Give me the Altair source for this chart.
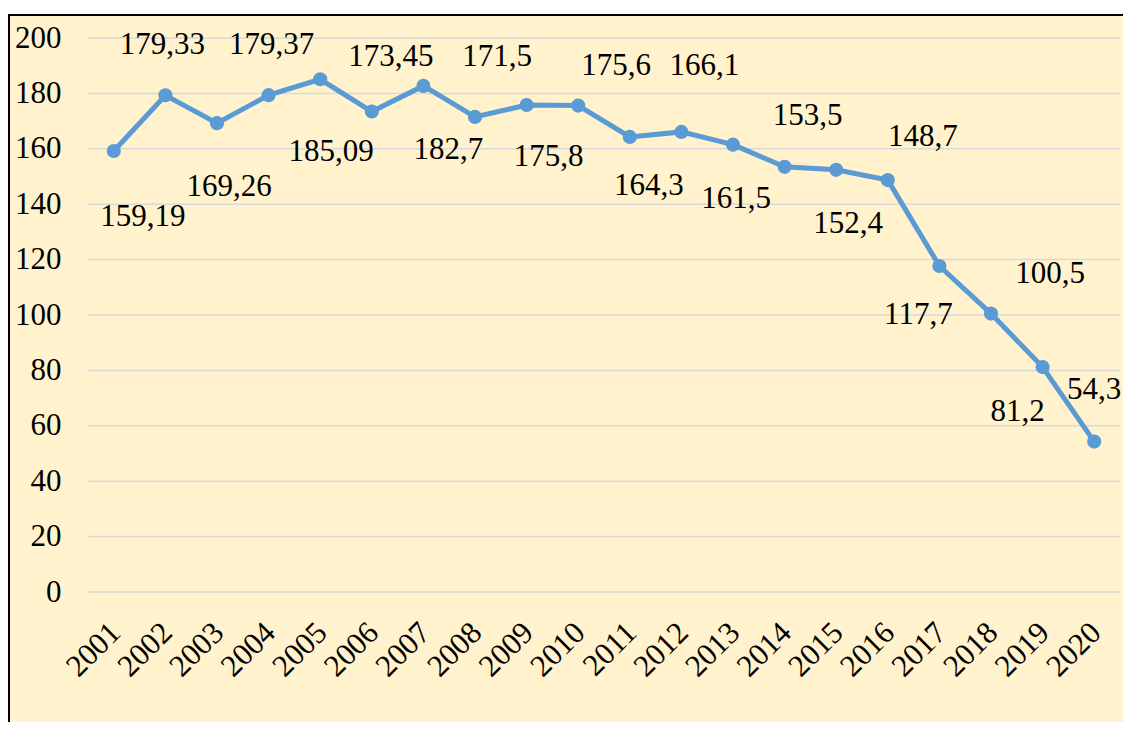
import altair as alt
import pandas as pd

# ---- data ----
years = ["2001", "2002", "2003", "2004", "2005", "2006", "2007", "2008", "2009", "2010",
         "2011", "2012", "2013", "2014", "2015", "2016", "2017", "2018", "2019", "2020"]
values = [159.19, 179.33, 169.26, 179.37, 185.09, 173.45, 182.7, 171.5, 175.8, 175.6,
          164.3, 166.1, 161.5, 153.5, 152.4, 148.7, 117.7, 100.5, 81.2, 54.3]
labels = ["159,19", "179,33", "169,26", "179,37", "185,09", "173,45", "182,7", "171,5", "175,8", "175,6",
          "164,3", "166,1", "161,5", "153,5", "152,4", "148,7", "117,7", "100,5", "81,2", "54,3"]
y_ticks = [0, 20, 40, 60, 80, 100, 120, 140, 160, 180, 200]

# ---- layout / style (label placement offsets in px) ----
label_offsets = {
    "2001": (29, 66), "2002": (-3, -50), "2003": (12, 64), "2004": (3, -50),
    "2005": (11, 73), "2006": (19, -55), "2007": (25, 64), "2008": (22, -60),
    "2009": (22, 52), "2010": (38, -40), "2011": (19, 49), "2012": (23, -66),
    "2013": (3, 54), "2014": (23, -51), "2015": (12, 54), "2016": (35, -43),
    "2017": (-21, 49), "2018": (59, -40), "2019": (-25, 45), "2020": (0, -52),
}

W, H = 1032, 554
FONT = "Liberation Serif"
FS = 31
LINE_COLOR = "#5B9BD5"
BG = "#FFF2CC"

df = pd.DataFrame({"year": years, "value": values, "label": labels})
ticks_df = pd.DataFrame({"tick": y_ticks})

yscale = alt.Scale(domain=[0, 200], nice=False, zero=True)
xscale = alt.Scale(type="point", padding=0.5)

y_axis = alt.Axis(values=y_ticks, grid=False, ticks=False, domain=False, title=None, zindex=1,
                  labelFont=FONT, labelFontSize=FS, labelColor="black", labelPadding=27)
x_axis = alt.Axis(labelAngle=-45, grid=False, ticks=False, domain=False, title=None, zindex=1,
                  labelFont=FONT, labelFontSize=FS, labelColor="black", labelPadding=25,
                  labelOffset=-9)

frame = alt.Chart(alt.Data(values=[{"a": 1}])).mark_rect(
    fill=BG, stroke="black", strokeWidth=2
).encode(x=alt.value(-79), x2=alt.value(1060), y=alt.value(-23), y2=alt.value(720))

grid = alt.Chart(ticks_df).mark_rule(color="#D9D9D9", strokeWidth=1.5).encode(
    y=alt.Y("tick:Q", scale=yscale, axis=y_axis),
    x=alt.value(0), x2=alt.value(W),
)

base = alt.Chart(df).encode(
    x=alt.X("year:O", scale=xscale, axis=x_axis, sort=years),
    y=alt.Y("value:Q", scale=yscale, axis=y_axis),
)

line = base.mark_line(color=LINE_COLOR, strokeWidth=5)
pts = base.mark_point(filled=True, color=LINE_COLOR, size=200, opacity=1)

texts = []
for yr in years:
    dx, dy = label_offsets[yr]
    texts.append(
        base.transform_filter(alt.datum.year == yr).mark_text(
            dx=dx, dy=dy, font=FONT, fontSize=FS, color="black", baseline="middle", align="center"
        ).encode(text="label:N")
    )

chart = alt.layer(frame, grid, line, pts, *texts).properties(
    width=W, height=H,
    autosize=alt.AutoSizeParams(type="none"),
    padding={"left": 80, "top": 30, "right": 3, "bottom": 130},
    background="white",
).configure_view(stroke=None)

chart.save("out.html", embed_options={"renderer": "svg", "actions": False})
